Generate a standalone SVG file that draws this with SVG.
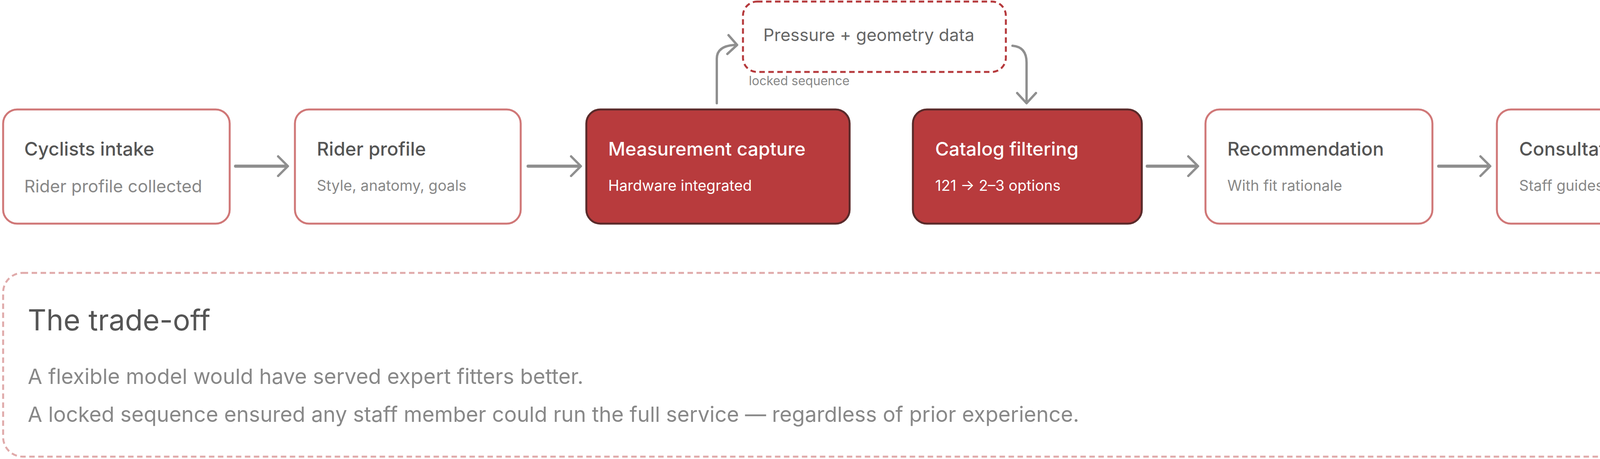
<svg xmlns="http://www.w3.org/2000/svg" width="4422" height="1174" viewBox="0 0 4422 1174">
<defs>
<marker id="ah" viewBox="0 0 20 20" refX="17" refY="10" markerWidth="20" markerHeight="20" markerUnits="userSpaceOnUse" orient="auto">
<path d="M2,-8 L17,10 L2,28" fill="none" stroke="#8f8f8f" stroke-width="5" stroke-linecap="round" transform="translate(0,0) scale(1)"/>
</marker>
<style>
.pale{fill:#fff;stroke:#d07878;stroke-width:5}
.hot{fill:#b83b3d;stroke:#5a2a2a;stroke-width:5}
.t{font-family:Inter,"Liberation Sans",sans-serif;font-size:48px;font-weight:500;fill:#555}
.s{font-family:Inter,"Liberation Sans",sans-serif;font-size:38px;fill:#888}
.w{fill:#fff}
.conn{fill:none;stroke:#8f8f8f;stroke-width:8;stroke-linecap:round}
.head{fill:none;stroke:#8f8f8f;stroke-width:6;stroke-linecap:round;stroke-linejoin:round}
</style>
</defs>
<g id="connectors">
<line class="conn" x1="603" y1="425" x2="733" y2="425"/><polyline class="head" points="712,400 737,425 712,450"/>
<line class="conn" x1="1352" y1="425" x2="1483" y2="425"/><polyline class="head" points="1462,400 1487,425 1462,450"/>
<line class="conn" x1="2937" y1="425" x2="3063" y2="425"/><polyline class="head" points="3042,400 3067,425 3042,450"/>
<line class="conn" x1="3683" y1="425" x2="3811" y2="425"/><polyline class="head" points="3790,400 3815,425 3790,450"/>
<path class="conn" style="stroke-width:6" d="M1835,264 L1835,150 Q1835,118 1880,115"/><polyline class="head" points="1865,90 1887,115 1862,138"/>
<path class="conn" style="stroke-width:6" d="M2592,117 Q2628,120 2628,160 L2628,262"/><polyline class="head" points="2604,238 2628,264 2652,238"/>
<text x="1917" y="218" class="s" style="font-size:32px">locked sequence</text>
</g>
<g id="data"><rect x="1902" y="4" width="673" height="180" rx="36" fill="#fff" stroke="#b5393c" stroke-width="5" stroke-dasharray="14 9"/><text x="1954" y="105" class="s" style="font-size:44px;fill:#666">Pressure + geometry data</text></g>
<g id="n1"><rect class="pale" x="8" y="280" width="580" height="292" rx="36"/><text x="62" y="398" class="t">Cyclists intake</text><text x="62" y="492" class="s" style="font-size:44px">Rider profile collected</text></g>
<g id="n2"><rect class="pale" x="755" y="280" width="578" height="292" rx="36"/><text x="811" y="398" class="t">Rider profile</text><text x="811" y="488" class="s">Style, anatomy, goals</text></g>
<g id="n3"><rect class="hot" x="1501" y="280" width="674" height="292" rx="36"/><text x="1557" y="398" class="t w">Measurement capture</text><text x="1557" y="488" class="s w">Hardware integrated</text></g>
<g id="n4"><rect class="hot" x="2337" y="280" width="586" height="292" rx="36"/><text x="2394" y="398" class="t w">Catalog filtering</text><text x="2394" y="488" class="s w">121 → 2–3 options</text></g>
<g id="n5"><rect class="pale" x="3086" y="280" width="581" height="292" rx="36"/><text x="3142" y="398" class="t">Recommendation</text><text x="3142" y="488" class="s">With fit rationale</text></g>
<g id="n6"><rect class="pale" x="3832" y="280" width="581" height="292" rx="36"/><text x="3889" y="398" class="t">Consultation</text><text x="3889" y="488" class="s">Staff guides customer</text></g>
<g id="tradeoff"><rect x="8" y="698" width="4406" height="470" rx="50" fill="#fff" stroke="#e0aaaa" stroke-width="5" stroke-dasharray="14 9"/>
<text x="71" y="845" style="font-family:Inter,'Liberation Sans',sans-serif;font-size:74px;fill:#555">The trade-off</text>
<text x="71" y="982" class="s" style="font-size:54px">A flexible model would have served expert fitters better.</text>
<text x="71" y="1079" class="s" style="font-size:54px">A locked sequence ensured any staff member could run the full service — regardless of prior experience.</text></g>
</svg>
